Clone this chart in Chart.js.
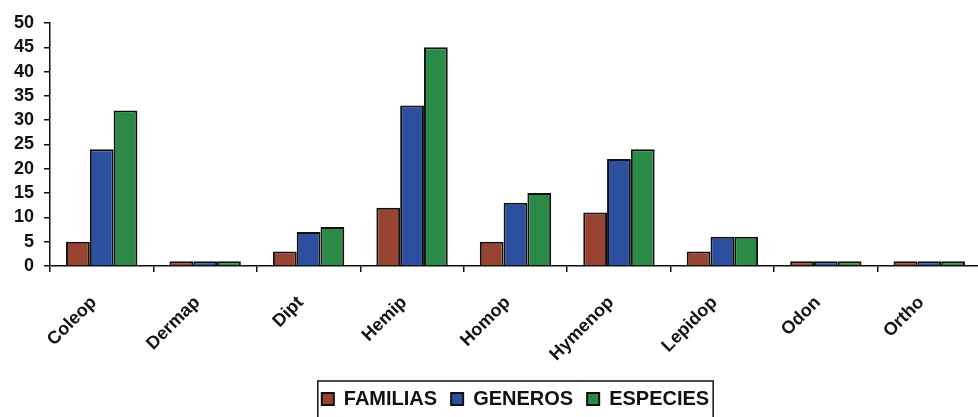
<!DOCTYPE html>
<html>
<head>
<meta charset="utf-8">
<script src="https://cdn.jsdelivr.net/npm/chart.js@4"></script>
<style>
  html, body { margin: 0; padding: 0; background: #fff; overflow: hidden; }
  #wrap { position: relative; width: 985px; height: 417px; }
</style>
</head>
<body>
<div id="wrap"><canvas id="c"></canvas></div>
<script>
// Insect orders sampled
const categories = ['Coleop', 'Dermap', 'Dipt', 'Hemip', 'Homop', 'Hymenop', 'Lepidop', 'Odon', 'Ortho'];
// Counts per order
const familias = [5, 1, 3, 12, 5, 11, 3, 1, 1];
const generos  = [24, 1, 7, 33, 13, 22, 6, 1, 1];
const especies = [32, 1, 8, 45, 15, 24, 6, 1, 1];
const yTicks = [0, 5, 10, 15, 20, 25, 30, 35, 40, 45, 50];

const FONT = '"Liberation Sans", Arial, sans-serif';

// Frame drawn around the legend row
const legendFrame = {
  id: 'legendFrame',
  afterDraw(chart) {
    const lg = chart.legend;
    if (!lg || !lg.legendHitBoxes || !lg.legendHitBoxes.length) return;
    const boxes = lg.legendHitBoxes;
    const left = Math.min(...boxes.map(b => b.left)) - 4;
    const right = Math.max(...boxes.map(b => b.left + b.width)) + 4;
    const top = Math.min(...boxes.map(b => b.top)) - 8;
    const bottom = Math.max(...boxes.map(b => b.top + b.height)) + 14;
    const ctx = chart.ctx;
    ctx.save();
    ctx.strokeStyle = '#111';
    ctx.lineWidth = 1.5;
    ctx.strokeRect(left, top, right - left, bottom - top);
    ctx.restore();
  }
};

const mk = (label, data, color) => ({
  label, data,
  backgroundColor: color,
  borderColor: '#111',
  borderWidth: 2,
  categoryPercentage: 0.69,
  barPercentage: 1.0
});

new Chart(document.getElementById('c'), {
  type: 'bar',
  data: {
    labels: categories,
    datasets: [
      mk('FAMILIAS', familias, '#98432f'),
      mk('GENEROS', generos, '#2d4f9f'),
      mk('ESPECIES', especies, '#2c8a47')
    ]
  },
  options: {
    responsive: true,
    maintainAspectRatio: false,
    animation: false,
    layout: { padding: { top: 23, right: 4, left: 0, bottom: -2 } },
    plugins: {
      tooltip: { enabled: false },
      legend: {
        position: 'bottom',
        fullSize: false,
        labels: {
          color: '#111',
          font: { family: FONT, size: 20, weight: 'bold' },
          boxWidth: 12,
          boxHeight: 12,
          padding: 14
        }
      }
    },
    scales: {
      x: {
        afterFit(s) { s.height = 109; },
        border: { display: true, color: '#111', width: 1.5 },
        grid: { drawOnChartArea: false, drawTicks: true, tickLength: 6, color: '#111', lineWidth: 1.5, offset: true },
        ticks: {
          minRotation: 45, maxRotation: 45,
          color: '#111',
          padding: 20,
          labelOffset: -8,
          font: { family: FONT, size: 18, weight: 'bold' }
        }
      },
      y: {
        min: 0, max: 50,
        afterFit(s) { s.width = 50; },
        afterBuildTicks(s) { s.ticks = yTicks.map(v => ({ value: v })); },
        border: { display: true, color: '#111', width: 1.5 },
        grid: { drawOnChartArea: false, drawTicks: true, tickLength: 6, color: '#111', lineWidth: 1.5 },
        ticks: {
          autoSkip: false,
          color: '#111',
          padding: 10,
          font: { family: FONT, size: 18, weight: 'bold' }
        }
      }
    }
  },
  plugins: [legendFrame]
});
</script>
</body>
</html>
